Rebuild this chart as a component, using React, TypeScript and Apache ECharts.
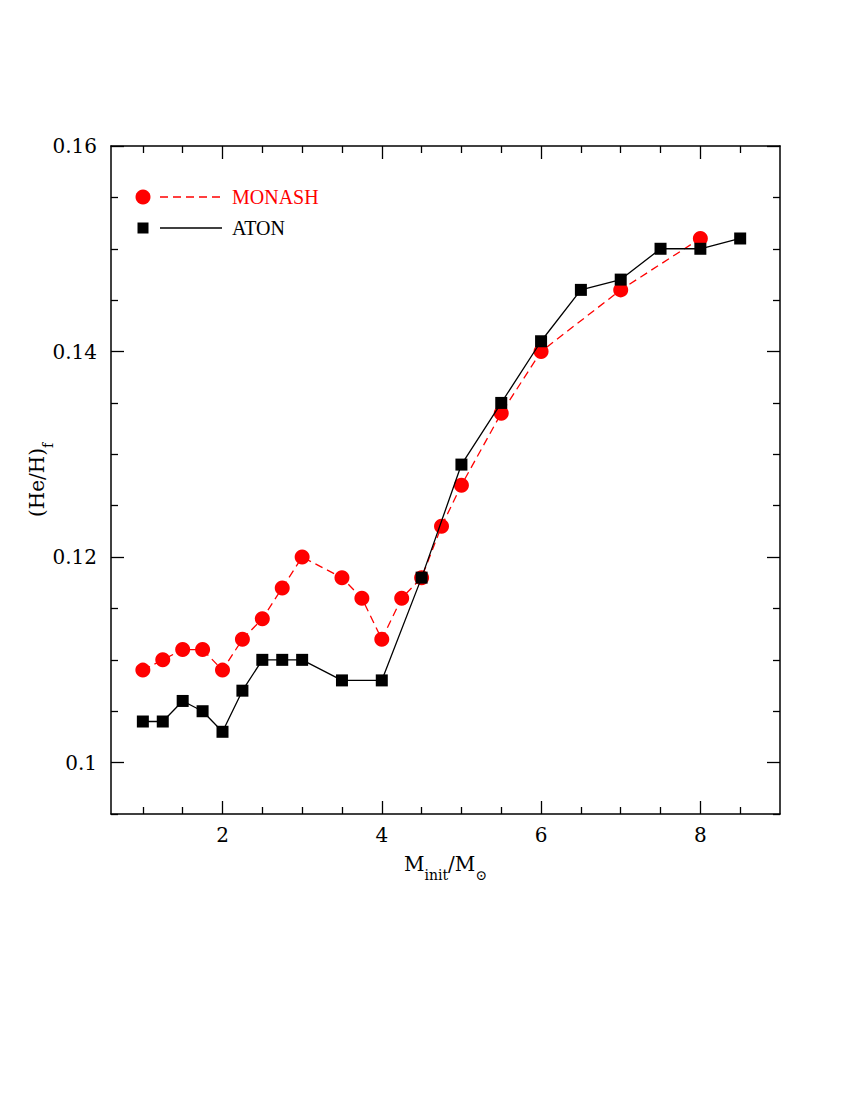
import React, { useEffect, useRef } from "react";
import * as echarts from "echarts";

const monashX = [1, 1.25, 1.5, 1.75, 2, 2.25, 2.5, 2.75, 3, 3.5, 3.75, 4, 4.25, 4.5, 4.75, 5, 5.5, 6, 7, 8];
const monashY = [0.109, 0.11, 0.111, 0.111, 0.109, 0.112, 0.114, 0.117, 0.12, 0.118, 0.116, 0.112, 0.116, 0.118, 0.123, 0.127, 0.134, 0.14, 0.146, 0.151];

const atonX = [1, 1.25, 1.5, 1.75, 2, 2.25, 2.5, 2.75, 3, 3.5, 4, 4.5, 5, 5.5, 6, 6.5, 7, 7.5, 8, 8.5];
const atonY = [0.104, 0.104, 0.106, 0.105, 0.103, 0.107, 0.11, 0.11, 0.11, 0.108, 0.108, 0.118, 0.129, 0.135, 0.141, 0.146, 0.147, 0.15, 0.15, 0.151];

const xMajorTicks = [2, 4, 6, 8];
const xMinorTicks = [1, 1.5, 2.5, 3, 3.5, 4.5, 5, 5.5, 6.5, 7, 7.5, 8.5];
const yMajorTicks = [0.1, 0.12, 0.14, 0.16];
const yMinorTicks = [0.095, 0.105, 0.11, 0.115, 0.125, 0.13, 0.135, 0.145, 0.15, 0.155];

const X_MIN = 0.6;
const X_MAX = 9.0;
const Y_MIN = 0.095;
const Y_MAX = 0.16;

const FONT = "DejaVu Serif";
const LEGEND_FONT = "Liberation Serif";

export default function App() {
  const ref = useRef<HTMLDivElement>(null);
  useEffect(() => {
    if (!ref.current) return;
    const chart = echarts.init(ref.current, null, { renderer: "svg" });
    const axisLine = { show: true, lineStyle: { color: "#000", width: 1.5 } };
    const mkX = (pos: string, vals: number[], len: number, labels: boolean, line: boolean, extra: any = {}) => ({
      type: "value",
      position: pos,
      min: X_MIN,
      max: X_MAX,
      axisLine: line ? axisLine : { show: false },
      axisTick: { show: true, inside: true, length: len, customValues: vals, lineStyle: { color: "#000", width: 1.3 } },
      axisLabel: labels
        ? { show: true, customValues: xMajorTicks, color: "#000", fontFamily: FONT, fontSize: 20, margin: 11 }
        : { show: false },
      splitLine: { show: false },
      ...extra,
    });
    const mkY = (pos: string, vals: number[], len: number, labels: boolean, line: boolean, extra: any = {}) => ({
      type: "value",
      position: pos,
      min: Y_MIN,
      max: Y_MAX,
      axisLine: line ? axisLine : { show: false },
      axisTick: { show: true, inside: true, length: len, customValues: vals, lineStyle: { color: "#000", width: 1.3 } },
      axisLabel: labels
        ? { show: true, customValues: yMajorTicks, color: "#000", fontFamily: FONT, fontSize: 20, margin: 14 }
        : { show: false },
      splitLine: { show: false },
      ...extra,
    });
    const nameRich = {
      m: { fontFamily: FONT, fontSize: 20, color: "#000", verticalAlign: "top", lineHeight: 28 },
      s: { fontFamily: FONT, fontSize: 14, color: "#000", verticalAlign: "bottom", lineHeight: 28, padding: [9, 0, 0, 0] },
    };
    chart.setOption({
      animation: false,
      backgroundColor: "#fff",
      grid: { left: 111, top: 146, right: 70, bottom: 286, containLabel: false },
      xAxis: [
        mkX("bottom", xMajorTicks, 13, true, true, {
          name: "{m|M}{s|init}{m|/M}{s|⊙}",
          nameLocation: "middle",
          nameGap: 40,
          nameMoveOverlap: false,
          nameTextStyle: { rich: nameRich },
        }),
        mkX("bottom", xMinorTicks, 7, false, false),
        mkX("top", xMajorTicks, 13, false, true),
        mkX("top", xMinorTicks, 7, false, false),
      ],
      yAxis: [
        mkY("left", yMajorTicks, 13, true, true, {
          name: "{m|(He/H)}{s|f}",
          nameLocation: "middle",
          nameRotate: 90,
          nameGap: 56,
          nameMoveOverlap: false,
          nameTextStyle: { rich: nameRich },
        }),
        mkY("left", yMinorTicks, 7, false, false),
        mkY("right", yMajorTicks, 13, false, true),
        mkY("right", yMinorTicks, 7, false, false),
      ],
      graphic: [
        { type: "circle", shape: { cx: 143, cy: 197, r: 7.5 }, style: { fill: "#ff0000" } },
        { type: "line", shape: { x1: 160, y1: 197, x2: 222, y2: 197 }, style: { stroke: "#ff0000", lineWidth: 1.3, lineDash: [8, 5] } },
        { type: "text", x: 232, y: 197, style: { text: "MONASH", fill: "#ff0000", font: `20px '${LEGEND_FONT}'`, verticalAlign: "middle" } },
        { type: "rect", shape: { x: 137.5, y: 222.5, width: 11, height: 11 }, style: { fill: "#000" } },
        { type: "line", shape: { x1: 160, y1: 228, x2: 222, y2: 228 }, style: { stroke: "#000", lineWidth: 1.3 } },
        { type: "text", x: 232, y: 228, style: { text: "ATON", fill: "#000", font: `20px '${LEGEND_FONT}'`, verticalAlign: "middle" } },
      ],
      series: [
        {
          name: "MONASH",
          type: "line",
          xAxisIndex: 0,
          yAxisIndex: 0,
          data: monashX.map((x, i) => [x, monashY[i]]),
          symbol: "circle",
          symbolSize: 15,
          itemStyle: { color: "#ff0000" },
          lineStyle: { color: "#ff0000", width: 1.3, type: [8, 5] },
          z: 2,
        },
        {
          name: "ATON",
          type: "line",
          xAxisIndex: 0,
          yAxisIndex: 0,
          data: atonX.map((x, i) => [x, atonY[i]]),
          symbol: "rect",
          symbolSize: 12,
          itemStyle: { color: "#000" },
          lineStyle: { color: "#000", width: 1.3 },
          z: 3,
        },
      ],
    });
    return () => chart.dispose();
  }, []);
  return <div ref={ref} style={{ position: "fixed", left: 0, top: 0, width: 850, height: 1100 }} />;
}
